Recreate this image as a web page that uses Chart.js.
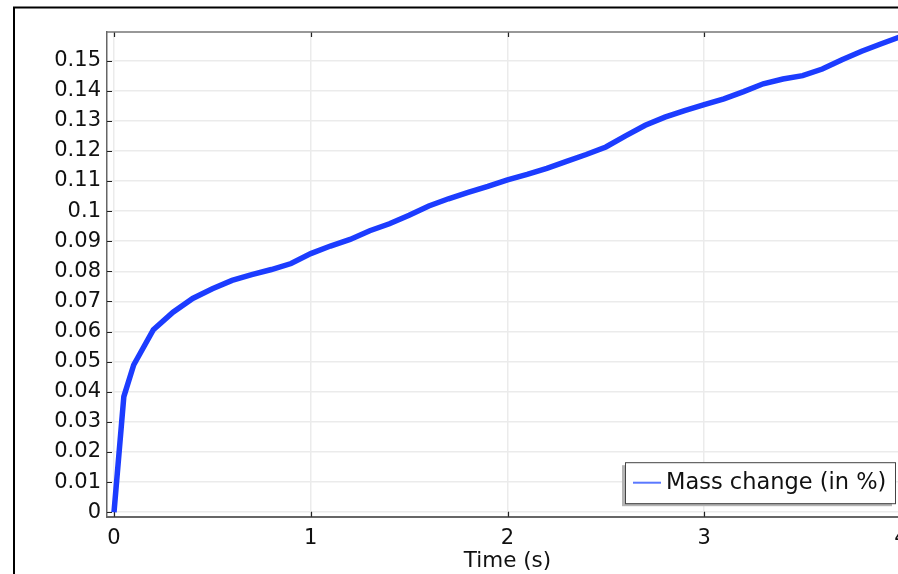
<!DOCTYPE html>
<html>
<head>
<meta charset="utf-8">
<title>Mass change</title>
<script src="https://cdn.jsdelivr.net/npm/chart.js@4.4.1/dist/chart.umd.min.js"></script>
<style>
html, body { margin: 0; padding: 0; background: #fff; overflow: hidden; }
canvas { display: block; }
</style>
</head>
<body>
<canvas id="grafico" width="930" height="574"></canvas>
<script>
var tiempos = [0, 0.05, 0.1, 0.2, 0.3, 0.4, 0.5, 0.6, 0.7, 0.8, 0.9, 1.0, 1.1, 1.2, 1.3, 1.4, 1.5, 1.6, 1.7, 1.8, 1.9, 2.0,
	2.1, 2.2, 2.3, 2.4, 2.5, 2.6, 2.7, 2.8, 2.9, 3.0, 3.1, 3.2, 3.3, 3.4, 3.5, 3.6, 3.7, 3.8, 3.9, 4.0];
var masas = [0, 0.0384, 0.0489, 0.0606, 0.0664, 0.0710, 0.0742, 0.0770, 0.0789, 0.0806, 0.0826, 0.0859, 0.0884, 0.0906,
	0.0935, 0.0958, 0.0986, 0.1017, 0.1041, 0.1062, 0.1082, 0.1104, 0.1122, 0.1142, 0.1165, 0.1188, 0.1213, 0.1250,
	0.1285, 0.1312, 0.1334, 0.1354, 0.1373, 0.1397, 0.1423, 0.1439, 0.1450, 0.1472, 0.1503, 0.1531, 0.1556, 0.1580];
var ticksX = [0, 1, 2, 3, 4];
var ticksY = [0, 0.01, 0.02, 0.03, 0.04, 0.05, 0.06, 0.07, 0.08, 0.09, 0.1, 0.11, 0.12, 0.13, 0.14, 0.15];
var etiquetaSerie = "Mass change (in %)";
var tituloX = "Time (s)";

var fuente = "'DejaVu Sans', sans-serif";

function puntos()
{
	var lista = [];
	for(i=0; i<tiempos.length; i++)
		lista.push({x: tiempos[i], y: masas[i]});
	return lista;
}

function formato(valor)
{
	return String(Number(valor.toFixed(2)));
}

function dibujaMarcas(chart)
{
	var ctx = chart.ctx;
	var a = chart.chartArea;
	var sx = chart.scales.x;
	var sy = chart.scales.y;
	ctx.save();
	ctx.strokeStyle = "#222";
	ctx.lineWidth = 1.2;
	ctx.beginPath();
	for(i=0; i<ticksX.length; i++)
	{
		var px = Math.round(sx.getPixelForValue(ticksX[i])) + 0.5;
		ctx.moveTo(px, a.bottom); ctx.lineTo(px, a.bottom - 5);
		ctx.moveTo(px, a.top); ctx.lineTo(px, a.top + 5);
	}
	for(i=0; i<ticksY.length; i++)
	{
		var py = Math.round(sy.getPixelForValue(ticksY[i])) + 0.5;
		ctx.moveTo(a.left, py); ctx.lineTo(a.left + 5, py);
		ctx.moveTo(a.right, py); ctx.lineTo(a.right - 5, py);
	}
	ctx.stroke();
	// borde superior y derecho del area
	ctx.strokeStyle = "#777";
	ctx.lineWidth = 1.3;
	ctx.beginPath();
	ctx.moveTo(a.left, a.top); ctx.lineTo(a.right, a.top); ctx.lineTo(a.right, a.bottom);
	ctx.stroke();
	ctx.restore();
}

function dibujaLeyenda(chart)
{
	var ctx = chart.ctx;
	var a = chart.chartArea;
	var x = a.right - 283;
	var y = a.bottom - 54.5;
	var w = 270;
	var h = 41;
	ctx.save();
	ctx.fillStyle = "#b4b4b4";
	ctx.fillRect(x - 3, y + 3, w, h);
	ctx.fillStyle = "#fff";
	ctx.fillRect(x, y, w, h);
	ctx.strokeStyle = "#444";
	ctx.lineWidth = 1;
	ctx.strokeRect(x + 0.5, y + 0.5, w, h);
	ctx.strokeStyle = "#5a78ff";
	ctx.lineWidth = 2;
	ctx.beginPath();
	ctx.moveTo(x + 8, y + 20.5); ctx.lineTo(x + 36, y + 20.5);
	ctx.stroke();
	ctx.fillStyle = "#111";
	ctx.font = "22.5px " + fuente;
	ctx.textBaseline = "middle";
	ctx.fillText(etiquetaSerie, x + 41, y + 21);
	ctx.restore();
}

function dibujaMarco(chart)
{
	var ctx = chart.ctx;
	ctx.save();
	ctx.strokeStyle = "#000";
	ctx.lineWidth = 2;
	ctx.beginPath();
	ctx.moveTo(14, chart.height); ctx.lineTo(14, 7.5); ctx.lineTo(chart.width, 7.5);
	ctx.stroke();
	ctx.restore();
}

var extras = {
	id: 'extras',
	beforeDraw: function(chart) { dibujaMarco(chart); },
	beforeDatasetsDraw: function(chart) { dibujaMarcas(chart); },
	afterDraw: function(chart) { dibujaLeyenda(chart); }
};

var ctx = document.getElementById("grafico");
var myChart = new Chart(ctx, {
	type: 'line',
	data: {
		datasets: [
		{
			label: etiquetaSerie,
			data: puntos(),
			borderColor: "#1c3cff",
			borderWidth: 5.5,
			pointRadius: 0,
			tension: 0,
			fill: false
		}]
	},
	options: {
		responsive: false,
		animation: false,
		layout: { padding: { left: 0, top: 32, right: 22, bottom: 0 } },
		plugins: {
			legend: { display: false },
			tooltip: { enabled: false }
		},
		scales: {
			x: {
				type: 'linear',
				min: -0.0356,
				max: 4.0356,
				afterBuildTicks: function(scale) { scale.ticks = ticksX.map(function(v) { return {value: v}; }); },
				afterFit: function(scale) { scale.height = 57.3; },
				ticks: {
					color: "#111",
					font: { family: fuente, size: 21 },
					padding: 9,
					maxRotation: 0,
					callback: function(v) { return formato(v); }
				},
				grid: { color: "#ebebeb", lineWidth: 1.5, drawTicks: false },
				border: { color: "#666", width: 2 },
				title: {
					display: true,
					text: tituloX,
					color: "#111",
					font: { family: fuente, size: 21.5 },
					padding: { top: 0, bottom: 0 }
				}
			},
			y: {
				type: 'linear',
				min: -0.0015,
				max: 0.1595,
				afterBuildTicks: function(scale) { scale.ticks = ticksY.map(function(v) { return {value: v}; }); },
				afterFit: function(scale) { scale.width = 107; },
				ticks: {
					color: "#111",
					font: { family: fuente, size: 21 },
					padding: 6,
					callback: function(v) { return formato(v); }
				},
				grid: { color: "#ebebeb", lineWidth: 1.5, drawTicks: false },
				border: { color: "#666", width: 1.5 }
			}
		}
	},
	plugins: [extras]
});
</script>
</body>
</html>
